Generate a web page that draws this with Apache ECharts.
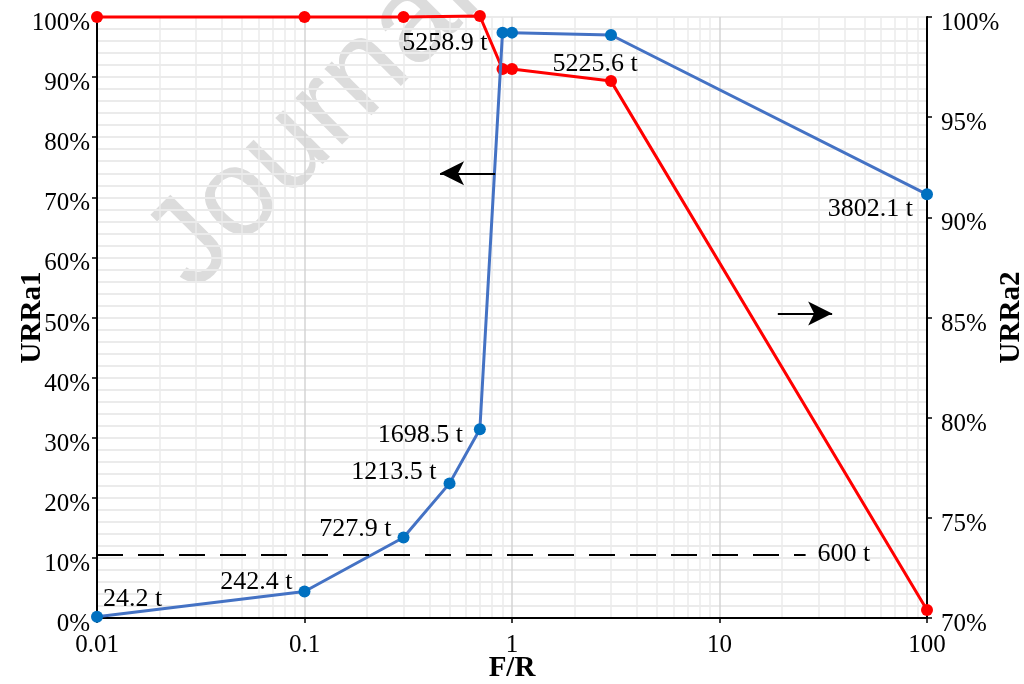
<!DOCTYPE html>
<html>
<head>
<meta charset="utf-8">
<script src="https://cdn.jsdelivr.net/npm/echarts@6/dist/echarts.min.js"></script>
<style>
html,body{margin:0;padding:0;background:#fff;}
#chart{width:1024px;height:684px;}
</style>
</head>
<body>
<div id="chart"></div>
<script>
// ---- data ----
const xBlue = [0.01, 0.1, 0.3, 0.5, 0.7, 0.9, 1, 3, 100];
const urra1 = [0.2, 4.4, 13.4, 22.4, 31.4, 97.4, 97.4, 97.0, 70.5];
const blueLabels = ['24.2 t', '242.4 t', '727.9 t', '1213.5 t', '1698.5 t', '5258.9 t', '', '5225.6 t', '3802.1 t'];

const xRed = [0.01, 0.1, 0.3, 0.7, 0.9, 1, 3, 100];
const urra2 = [100, 100, 100, 100.05, 97.4, 97.4, 96.8, 70.4];

const xTickLabels = ['0.01', '0.1', '1', '10', '100'];
const thresholdValue = 10.6;      // URRa1 level of 600 t
const thresholdLabel = '600 t';
const thresholdStartX = 0.01;
const thresholdEndX = 26;
const leftArrow = [[0.83, 74], [0.45, 74]];    // points to URRa1 axis
const rightArrow = [[19.1, 85.2], [34.9, 85.2]]; // points to URRa2 axis
const minorGridX = [2, 3, 4, 5, 6, 7, 8, 9];
const decades = [0.01, 0.1, 1, 10];

// ---- styles / layout ----
const FONT = "'Liberation Serif','Times New Roman',serif";
const labelPlace = [
  {align: 'left',  dx: 6,   dy: -18},
  {align: 'right', dx: -12, dy: -9},
  {align: 'right', dx: -12, dy: -8},
  {align: 'right', dx: -13, dy: -11},
  {align: 'right', dx: -17, dy: 6},
  {align: 'right', dx: -15, dy: 11},
  {align: 'right', dx: 0,   dy: 0},
  {align: 'center',dx: -16, dy: 29},
  {align: 'right', dx: -14, dy: 15}
];

const blueData = xBlue.map((x, i) => ({
  value: [x, urra1[i]],
  label: {
    show: blueLabels[i] !== '',
    formatter: blueLabels[i],
    position: 'inside',
    align: labelPlace[i].align,
    verticalAlign: 'middle',
    offset: [labelPlace[i].dx, labelPlace[i].dy],
    color: '#000',
    fontFamily: FONT,
    fontSize: 26
  }
}));
const redData = xRed.map((x, i) => [x, urra2[i]]);

const minorLines = [];
decades.forEach(d => minorGridX.forEach(m => minorLines.push({xAxis: d * m})));

const nameStyle = {fontFamily: FONT, fontSize: 29, fontWeight: 'bold', color: '#000'};

const chart = echarts.init(document.getElementById('chart'), null, {renderer: 'canvas'});
chart.setOption({
  animation: false,
  backgroundColor: '#fff',
  grid: {left: 97, right: 97, top: 17, bottom: 66, containLabel: false, outerBoundsMode: 'none',
         show: true, borderColor: '#000', borderWidth: 2, backgroundColor: 'transparent'},
  graphic: [{
    type: 'text',
    z: -1,
    silent: true,
    x: 314, y: 124,
    rotation: Math.PI / 4,
    style: {
      text: 'Journal',
      fontFamily: "'Liberation Sans', Arial, sans-serif",
      fontSize: 125,
      fill: 'rgba(185,185,185,0.5)',
      textAlign: 'center',
      textVerticalAlign: 'middle'
    }
  }],
  xAxis: {
    type: 'log',
    logBase: 10,
    min: 0.01,
    max: 100,
    name: 'F/R',
    nameLocation: 'middle',
    nameGap: 36,
    nameMoveOverlap: false,
    nameTextStyle: nameStyle,
    axisLine: {lineStyle: {color: '#000', width: 2}},
    axisTick: {show: true, length: 5, lineStyle: {color: '#000', width: 1.5}},
    axisLabel: {
      fontFamily: FONT, fontSize: 25, color: '#000', margin: 15,
      formatter: v => {
        const i = Math.round(Math.log10(v) + 2);
        return xTickLabels[i] !== undefined ? xTickLabels[i] : '';
      }
    },
    splitLine: {show: true, lineStyle: {color: '#d4d4d4', width: 1.5}},
    minorTick: {show: false},
    minorSplitLine: {show: false}
  },
  yAxis: [{
    type: 'value',
    min: 0, max: 100, interval: 10,
    name: 'URRa1',
    nameLocation: 'middle',
    nameRotate: 90,
    nameGap: 50,
    nameMoveOverlap: false,
    nameTextStyle: nameStyle,
    axisLine: {show: true, lineStyle: {color: '#000', width: 2}},
    axisTick: {show: true, length: 5, lineStyle: {color: '#000', width: 1.5}},
    axisLabel: {fontFamily: FONT, fontSize: 25, color: '#000', margin: 7,
                verticalAlign: 'top', lineHeight: 13, formatter: '{value}%'},
    splitLine: {show: true, lineStyle: {color: '#ebebeb', width: 2}},
    minorTick: {show: false, splitNumber: 5},
    minorSplitLine: {show: true, lineStyle: {color: '#ebebeb', width: 2}}
  }, {
    type: 'value',
    min: 70, max: 100, interval: 5,
    name: 'URRa2',
    nameLocation: 'middle',
    nameRotate: 90,
    nameGap: 70,
    nameMoveOverlap: false,
    nameTextStyle: nameStyle,
    axisLine: {show: true, lineStyle: {color: '#000', width: 2}},
    axisTick: {show: true, length: 5, lineStyle: {color: '#000', width: 1.5}},
    axisLabel: {fontFamily: FONT, fontSize: 25, color: '#000', margin: 14,
                verticalAlign: 'top', lineHeight: 13, formatter: '{value}%'},
    splitLine: {show: false}
  }],
  series: [{
    name: 'grid-minor',
    type: 'line',
    data: [],
    z: 0,
    silent: true,
    markLine: {
      silent: true,
      symbol: ['none', 'none'],
      label: {show: false},
      lineStyle: {color: '#ebebeb', width: 1.5, type: 'solid'},
      data: minorLines,
      z: 0
    }
  }, {
    name: 'URRa2',
    type: 'line',
    yAxisIndex: 1,
    data: redData,
    clip: false,
    symbol: 'circle',
    symbolSize: 12,
    itemStyle: {color: '#ff0000'},
    lineStyle: {color: '#ff0000', width: 3},
    z: 3,
    markLine: {
      silent: true,
      symbol: ['none', 'arrow'],
      symbolSize: [18, 24],
      label: {show: false},
      lineStyle: {color: '#000', width: 2, type: 'solid'},
      data: [[{coord: rightArrow[0]}, {coord: rightArrow[1]}]]
    }
  }, {
    name: 'URRa1',
    type: 'line',
    yAxisIndex: 0,
    data: blueData,
    clip: false,
    symbol: 'circle',
    symbolSize: 12,
    itemStyle: {color: '#0070c0'},
    lineStyle: {color: '#4472c4', width: 3},
    z: 4,
    markLine: {
      silent: true,
      symbol: ['none', 'none'],
      data: [
        [{coord: [thresholdStartX, thresholdValue],
          lineStyle: {color: '#000', width: 2, type: [26, 15]}},
         {coord: [thresholdEndX, thresholdValue],
          label: {show: true, position: 'end', formatter: thresholdLabel, distance: 12,
                  fontFamily: FONT, fontSize: 26, color: '#000'}}],
        [{coord: leftArrow[0], symbol: 'none',
          lineStyle: {color: '#000', width: 2, type: 'solid'}, label: {show: false}},
         {coord: leftArrow[1], symbol: 'arrow', symbolSize: [18, 24], label: {show: false}}]
      ]
    }
  }]
});
</script>
</body>
</html>
